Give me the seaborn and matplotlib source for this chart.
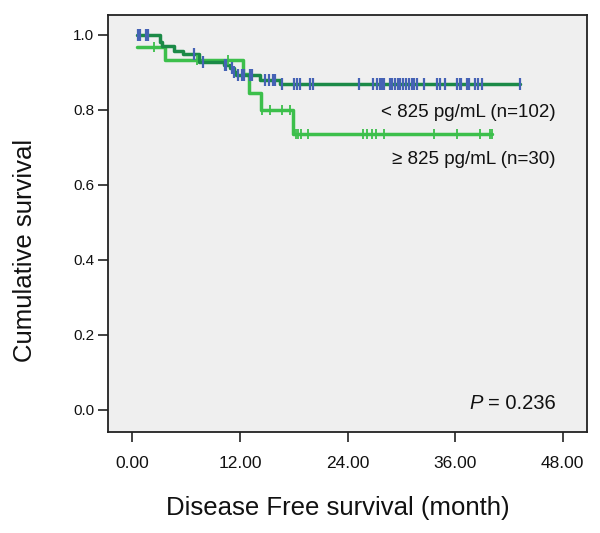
import numpy as np
import pandas as pd
import matplotlib
matplotlib.use("Agg")
import matplotlib.pyplot as plt
import seaborn as sns

# ---- data ----
low_times = [0.5, 3.1, 3.3, 4.6, 5.6, 7.4, 10.2, 10.9, 11.3, 11.6, 14.2, 16.5, 43.2]
low_surv = [1.0, 0.980, 0.970, 0.958, 0.949, 0.929, 0.920, 0.911, 0.901, 0.893, 0.881, 0.868, 0.868]
low_censor = [0.6, 0.9, 1.5, 1.7, 6.9, 7.9, 10.3, 10.5, 11.1, 11.3, 11.8, 12.2, 12.4, 13.1, 13.3,
              14.8, 15.2, 15.7, 15.9, 16.7, 18.0, 18.4, 18.7, 19.8, 20.1, 25.3, 26.8, 27.3, 27.6,
              27.8, 28.1, 28.7, 29.0, 29.3, 29.6, 29.9, 30.2, 30.5, 30.8, 31.2, 31.4, 31.7, 32.5,
              34.0, 34.3, 34.9, 36.2, 36.5, 36.7, 37.3, 37.6, 38.2, 38.6, 39.0, 43.2]

high_times = [0.5, 3.6, 12.3, 13.0, 14.3, 17.9, 40.1]
high_surv = [0.967, 0.933, 0.897, 0.845, 0.799, 0.735, 0.735]
high_censor = [2.4, 7.2, 10.7, 14.5, 15.4, 16.7, 17.6, 18.2, 18.5, 18.8, 19.6, 25.7, 26.2, 26.7,
               27.2, 28.1, 33.6, 36.2, 38.8, 39.9, 40.1]

x_ticks = [0, 12, 24, 36, 48]
y_ticks = [0.0, 0.2, 0.4, 0.6, 0.8, 1.0]
label_low = "< 825 pg/mL (n=102)"
label_high = "\u2265 825 pg/mL (n=30)"
p_text = "= 0.236"

sns.set_theme(style="white")
plt.rcParams["font.family"] = ["Liberation Sans", "DejaVu Sans"]

DARK = "#1b8a47"
LIGHT = "#3cbf4b"
BLUE = "#4562b5"


def surv_at(times, surv, t):
    idx = np.searchsorted(np.asarray(times), np.asarray(t), side="right") - 1
    idx = np.clip(idx, 0, len(surv) - 1)
    return np.asarray(surv)[idx]


fig = plt.figure(figsize=(6.0, 5.33), dpi=100)
ax = fig.add_axes([0.18, 0.1895, 0.7983, 0.7824])
ax.set_facecolor("#efefef")

df_high = pd.DataFrame({"t": high_times, "s": high_surv})
df_low = pd.DataFrame({"t": low_times, "s": low_surv})

sns.lineplot(data=df_high, x="t", y="s", ax=ax, color=LIGHT, lw=2.5,
             drawstyle="steps-post", estimator=None, sort=False, zorder=2)
sns.lineplot(data=df_low, x="t", y="s", ax=ax, color=DARK, lw=2.5,
             drawstyle="steps-post", estimator=None, sort=False, zorder=3)

ch = pd.DataFrame({"t": high_censor, "s": surv_at(high_times, high_surv, high_censor)})
cl = pd.DataFrame({"t": low_censor, "s": surv_at(low_times, low_surv, low_censor)})
sns.scatterplot(data=ch, x="t", y="s", ax=ax, marker="|", s=60, color=LIGHT,
                linewidth=1.3, zorder=4)
sns.scatterplot(data=cl, x="t", y="s", ax=ax, marker="|", s=70, color=BLUE,
                linewidth=1.6, zorder=5)

ax.set_xlim(-2.71, 50.7)
ax.set_ylim(-0.0587, 1.0533)
ax.set_xticks(x_ticks)
ax.set_xticklabels([f"{v:.2f}" for v in x_ticks])
ax.set_yticks(y_ticks)
ax.set_yticklabels([f"{v:.1f}" for v in y_ticks])
ax.tick_params(axis="both", which="major", direction="out", length=7, width=1.2,
               color="#222222", labelsize=11, labelcolor="#111111", pad=3, bottom=True, left=True)
ax.tick_params(axis="x", pad=10, labelsize=12.5)

for sp in ax.spines.values():
    sp.set_color("#222222")
    sp.set_linewidth(1.3)
    sp.set_visible(True)

ax.set_xlabel("Disease Free survival (month)", fontsize=18.5, labelpad=18, color="#111111")
ax.set_ylabel("Cumulative survival", fontsize=18.5, labelpad=26, color="#111111")
ax.xaxis.label.set_x(0.48)
ax.yaxis.label.set_y(0.4365)

ax.text(47.2, 0.792, label_low, ha="right", va="center", fontsize=13.5, color="#111111")
ax.text(47.2, 0.667, label_high, ha="right", va="center", fontsize=13.5, color="#111111")
t = ax.text(47.2, 0.018, p_text, ha="right", va="center", fontsize=14.5, color="#111111")
ax.annotate("P", xy=(0, 0.5), xycoords=t, xytext=(-3.5, 0), textcoords="offset points",
            ha="right", va="center", fontsize=14.5, style="italic", color="#111111")

fig.savefig("out.png", dpi=100, facecolor="white")
